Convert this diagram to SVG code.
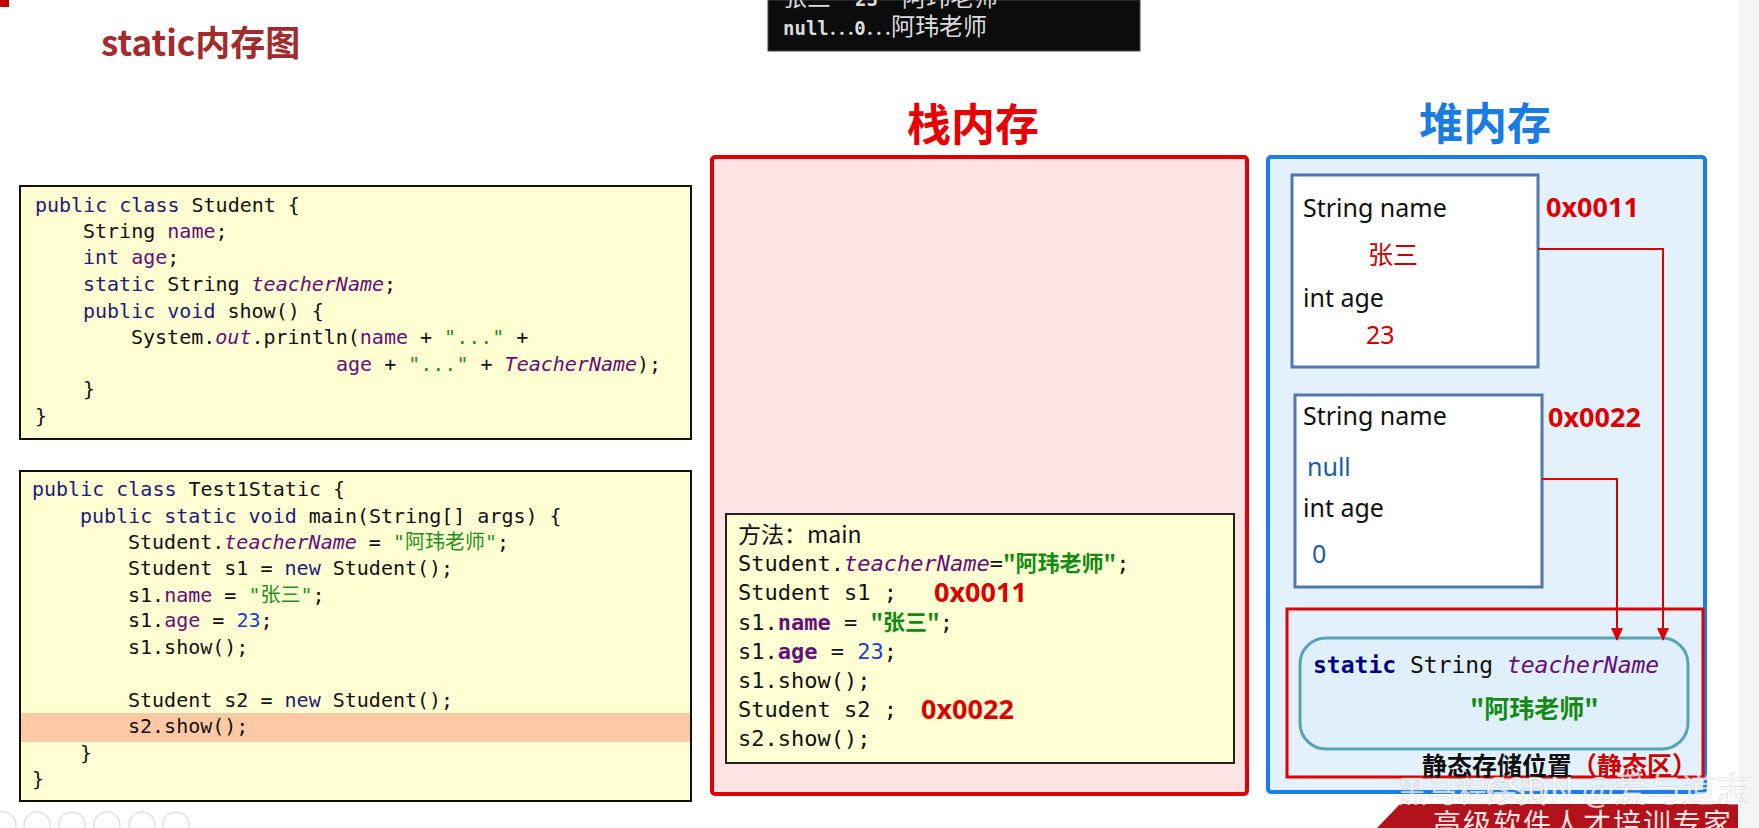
<svg xmlns="http://www.w3.org/2000/svg" width="1759" height="828" viewBox="0 0 1759 828">
<defs>
<style>
.code{font-family:'DejaVu Sans Mono','Noto Sans CJK SC',monospace;font-size:20px;fill:#111}
.fcode{font-family:'DejaVu Sans Mono','Noto Sans CJK SC',monospace;font-size:22px;fill:#111}
.kw{fill:#1c1c78}
.fld{fill:#660e7a}
.fi{fill:#660e7a;font-style:italic}
.str{fill:#1f8f1f}
.strb{fill:#138a13;font-weight:bold;font-family:'Noto Sans CJK SC',sans-serif}
.num{fill:#1d3fc8}
.b{font-weight:bold}
.lbl{font-family:'Noto Sans','Noto Sans CJK SC',sans-serif;font-size:25px;fill:#111}
.addr{font-family:'Noto Sans',sans-serif;font-size:27px;font-weight:bold;fill:#dd0000}
.val{font-family:'Noto Sans','Noto Sans CJK SC',sans-serif;font-size:25px}
.obj{fill:#ffffff;stroke:#5276ad;stroke-width:3}
.conn{fill:none;stroke:#dd0000;stroke-width:2}
.con-a{font-family:'DejaVu Sans Mono',monospace;font-size:19px;font-weight:bold}
.con-c{font-family:'Noto Sans CJK SC',sans-serif;font-size:24px}
</style>
<marker id="arr" markerWidth="14" markerHeight="14" refX="12" refY="6" orient="auto" markerUnits="userSpaceOnUse">
<path d="M0,0 L13,6 L0,12 Z" fill="#dd0000"/>
</marker>
</defs>
<rect x="0" y="0" width="1759" height="828" fill="#ffffff"/>
<rect x="1739" y="0" width="20" height="828" fill="#f5f5f5"/>
<rect x="0" y="0" width="9" height="7" fill="#c00000"/>

<g id="title">
<text x="101" y="56" font-family="'Noto Sans CJK SC',sans-serif" font-size="35" font-weight="bold" fill="#a32a2d">static内存图</text>
</g>

<g id="console">
<rect x="768" y="0" width="372" height="51" fill="#0c0c0c" stroke="#444" stroke-width="1"/>
<text x="783" y="6" fill="#dcdcdc"><tspan class="con-c">张三…</tspan><tspan class="con-a">23</tspan><tspan class="con-c">…阿玮老师</tspan></text>
<text x="783" y="35" fill="#dcdcdc"><tspan class="con-a">null</tspan><tspan class="con-c">…</tspan><tspan class="con-a">0</tspan><tspan class="con-c">…阿玮老师</tspan></text>
</g>

<g id="student-class">
<rect x="20" y="186" width="671" height="253" fill="#fffed2" stroke="#111" stroke-width="2"/>
<text class="code" x="35" y="212"><tspan class="kw">public class</tspan> Student {</text>
<text class="code" x="83" y="238">String <tspan class="fld">name</tspan>;</text>
<text class="code" x="83" y="264"><tspan class="kw">int</tspan> <tspan class="fld">age</tspan>;</text>
<text class="code" x="83" y="291"><tspan class="kw">static</tspan> String <tspan class="fi">teacherName</tspan>;</text>
<text class="code" x="83" y="318"><tspan class="kw">public void</tspan> show() {</text>
<text class="code" x="131" y="344">System.<tspan class="fi">out</tspan>.println(<tspan class="fld">name</tspan> + <tspan class="str">"..."</tspan> +</text>
<text class="code" x="336" y="371"><tspan class="fld">age</tspan> + <tspan class="str">"..."</tspan> + <tspan class="fi">TeacherName</tspan>);</text>
<text class="code" x="83" y="396">}</text>
<text class="code" x="35" y="423">}</text>
</g>

<g id="test-class">
<rect x="20" y="471" width="671" height="330" fill="#fffed2" stroke="#111" stroke-width="2"/>
<rect x="21" y="713" width="669" height="29" fill="#fdc9a4"/>
<text class="code" x="32" y="496"><tspan class="kw">public class</tspan> Test1Static {</text>
<text class="code" x="80" y="523"><tspan class="kw">public static void</tspan> main(String[] args) {</text>
<text class="code" x="128" y="549">Student.<tspan class="fi">teacherName</tspan> = <tspan class="str">"阿玮老师"</tspan>;</text>
<text class="code" x="128" y="575">Student s1 = <tspan class="kw">new</tspan> Student();</text>
<text class="code" x="128" y="602">s1.<tspan class="fld">name</tspan> = <tspan class="str">"张三"</tspan>;</text>
<text class="code" x="128" y="627">s1.<tspan class="fld">age</tspan> = <tspan class="num">23</tspan>;</text>
<text class="code" x="128" y="654">s1.show();</text>
<text class="code" x="128" y="707">Student s2 = <tspan class="kw">new</tspan> Student();</text>
<text class="code" x="128" y="733">s2.show();</text>
<text class="code" x="80" y="760">}</text>
<text class="code" x="32" y="786">}</text>
</g>

<g id="stack">
<text x="973" y="141" text-anchor="middle" font-family="'Noto Sans CJK SC',sans-serif" font-size="44" font-weight="bold" fill="#e60000">栈内存</text>
<rect x="712" y="157" width="535" height="637" rx="3" fill="#fde3e4" stroke="#e00000" stroke-width="4"/>
</g>

<g id="main-frame">
<rect x="726" y="514" width="508" height="249" fill="#ffffd4" stroke="#222" stroke-width="2"/>
<text x="738" y="543" font-family="'Noto Sans CJK SC',sans-serif" font-size="23" fill="#111">方法：main</text>
<text class="fcode" x="738" y="571">Student.<tspan class="fi">teacherName</tspan>=<tspan class="strb">"阿玮老师"</tspan>;</text>
<text class="fcode" x="738" y="600">Student s1 ;</text>
<text class="addr" x="934" y="602">0x0011</text>
<text class="fcode" x="738" y="630">s1.<tspan class="fld b">name</tspan> = <tspan class="strb">"张三"</tspan>;</text>
<text class="fcode" x="738" y="659">s1.<tspan class="fld b">age</tspan> = <tspan class="num">23</tspan>;</text>
<text class="fcode" x="738" y="688">s1.show();</text>
<text class="fcode" x="738" y="717">Student s2 ;</text>
<text class="addr" x="921" y="719">0x0022</text>
<text class="fcode" x="738" y="746">s2.show();</text>
</g>

<g id="heap">
<text x="1485" y="140" text-anchor="middle" font-family="'Noto Sans CJK SC',sans-serif" font-size="44" font-weight="bold" fill="#1a7be3">堆内存</text>
<rect x="1268" y="157" width="437" height="635" rx="3" fill="#e3f1fc" stroke="#1a7ee8" stroke-width="4"/>
</g>

<g id="object-s1">
<rect class="obj" x="1292" y="175" width="246" height="192"/>
<text class="lbl" x="1303" y="217">String name</text>
<text class="val" x="1368" y="264" fill="#cc0000">张三</text>
<text class="lbl" x="1303" y="307">int age</text>
<text class="val" x="1366" y="344" fill="#cc0000">23</text>
<text class="addr" x="1546" y="217">0x0011</text>
</g>

<g id="object-s2">
<rect class="obj" x="1295" y="395" width="247" height="192"/>
<text class="lbl" x="1303" y="425">String name</text>
<text class="val" x="1307" y="476" fill="#1a5ea8">null</text>
<text class="lbl" x="1303" y="517">int age</text>
<text class="val" x="1312" y="563" fill="#1a5ea8">0</text>
<text class="addr" x="1548" y="427">0x0022</text>
</g>

<g id="static-area">
<rect x="1287" y="609" width="416" height="168" fill="none" stroke="#e00000" stroke-width="3"/>
<rect x="1300" y="638" width="388" height="111" rx="26" fill="#e0f0fa" stroke="#5aa3b4" stroke-width="3"/>
<text x="1313" y="673" font-family="'DejaVu Sans Mono',monospace" font-size="23" fill="#111"><tspan font-weight="bold" fill="#000080">static</tspan> String <tspan class="fi">teacherName</tspan></text>
<text x="1470" y="718" font-family="'Noto Sans CJK SC',sans-serif" font-size="25" font-weight="bold" fill="#138a13">"阿玮老师"</text>
<text x="1422" y="775" font-family="'Noto Sans CJK SC',sans-serif" font-size="25" font-weight="bold" fill="#111">静态存储位置<tspan fill="#d00000">（静态区）</tspan></text>
</g>

<g id="connectors">
<path class="conn" d="M1538,249 H1663 V640" marker-end="url(#arr)"/>
<path class="conn" d="M1542,479 H1617 V640" marker-end="url(#arr)"/>
</g>

<g id="overlay">
<g fill="none" stroke="#e2e2e2" stroke-width="1.5">
<circle cx="3" cy="825" r="13"/>
<circle cx="37" cy="825" r="13"/>
<circle cx="72" cy="825" r="13"/>
<circle cx="107" cy="825" r="13"/>
<circle cx="142" cy="825" r="13"/>
<circle cx="176" cy="825" r="13"/>
</g>
<path d="M1377,828 L1400,804 L1738,804 L1738,828 Z" fill="#b3121c"/>
<text x="1433" y="834" font-family="'Noto Sans CJK SC',sans-serif" font-size="28" letter-spacing="2" fill="#f4e6e6">高级软件人才培训专家</text>
<text x="1397" y="802" font-family="'Noto Sans CJK SC',sans-serif" font-size="30" fill="#ffffff" fill-opacity="0.75" stroke="#bbbbbb" stroke-width="0.6" stroke-opacity="0.6">黑马程序员</text>
<text x="1485" y="802" font-family="'Noto Sans CJK SC',sans-serif" font-size="34" fill="#ffffff" fill-opacity="0.75" stroke="#bbbbbb" stroke-width="0.6" stroke-opacity="0.6">CSDN @爱与道志</text>
</g>
</svg>
